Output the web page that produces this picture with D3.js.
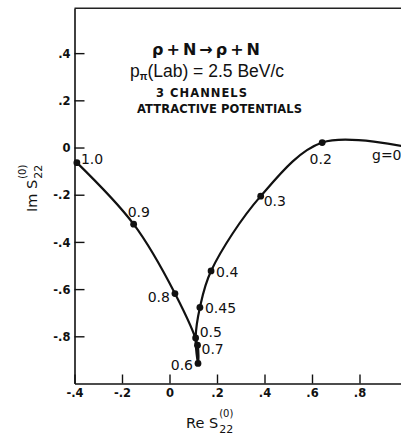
<!DOCTYPE html>
<html>
<head>
<meta charset="utf-8">
<script src="https://cdn.jsdelivr.net/npm/d3@7"></script>
<style>
  html, body { margin: 0; padding: 0; background: #fff; }
  svg { display: block; }
  .tick text { font-family: "DejaVu Sans", sans-serif; font-weight: bold; font-size: 11.5px; fill: #111; }
  .ptlabel { font-family: "DejaVu Sans", sans-serif; font-size: 14px; fill: #111; }
</style>
</head>
<body>
<script>
// Coupling-strength labels along the trajectory, in curve order
const gLabels = ["1.0", "0.9", "0.8", "0.7", "0.6", "0.5", "0.45", "0.4", "0.3", "0.2", "g=0"];
// Re S22(0) and Im S22(0) at each coupling strength
const reS = [-0.390, -0.151, 0.023, 0.118, 0.120, 0.110, 0.128, 0.175, 0.384, 0.643, 1.000];
const imS = [-0.064, -0.325, -0.619, -0.838, -0.915, -0.807, -0.678, -0.523, -0.206, 0.021, 0.002];

const xTickValues = [-0.4, -0.2, 0, 0.2, 0.4, 0.6, 0.8];
const xTickLabels = ["-.4", "-.2", "0", ".2", ".4", ".6", ".8"];
const yTickValues = [0.4, 0.2, 0, -0.2, -0.4, -0.6, -0.8];
const yTickLabels = [".4", ".2", "0", "-.2", "-.4", "-.6", "-.8"];

// label placement relative to each point: [dx, dy, anchor]
const labelPlace = [
  [4, 1, "start"], [-6, -7, "start"], [-5, 8, "end"], [4, 9, "start"],
  [-5, 7, "end"], [4, -1, "start"], [5, 5, "start"], [5, 6, "start"],
  [3, 10, "start"], [-1.5, 21, "middle"], [-35, 13, "start"]
];

const W = 401, H = 436;
const svg = d3.select("body").append("svg").attr("width", W).attr("height", H);

const x = d3.scaleLinear().domain([-0.4, 1.0]).range([74.5, 407]);
const y = d3.scaleLinear().domain([-1.0, 0.59]).range([383.5, 8.3]);

// axes with inward ticks
const xAxis = d3.axisBottom(x)
  .tickValues(xTickValues)
  .tickFormat((d, i) => xTickLabels[i])
  .tickSizeInner(-9).tickSizeOuter(0).tickPadding(5);
const yAxis = d3.axisLeft(y)
  .tickValues(yTickValues)
  .tickFormat((d, i) => yTickLabels[i])
  .tickSizeInner(-10).tickSizeOuter(0).tickPadding(4);

const gx = svg.append("g").attr("transform", `translate(0,${y(-1.0)})`).call(xAxis);
const gy = svg.append("g").attr("transform", `translate(${x(-0.4)},0)`).call(yAxis);
[gx, gy].forEach(g => {
  g.selectAll("path.domain").attr("stroke", "#111").attr("stroke-width", 1.6);
  g.selectAll(".tick line").attr("stroke", "#111").attr("stroke-width", 1.4);
});
gy.selectAll(".tick text").attr("dy", "0.36em");

// top frame line
svg.append("line")
  .attr("x1", x(-0.4)).attr("x2", W)
  .attr("y1", y(0.59)).attr("y2", y(0.59))
  .attr("stroke", "#222").attr("stroke-width", 1.4);

// trajectory
const pts = reS.map((r, i) => [r, imS[i]]);
const line = d3.line().x(d => x(d[0])).y(d => y(d[1])).curve(d3.curveCatmullRom.alpha(0.5));
svg.append("path")
  .attr("d", line(pts))
  .attr("fill", "none").attr("stroke", "#111").attr("stroke-width", 2.2);

svg.selectAll("circle.pt").data(pts.slice(0, pts.length - 1)).enter()
  .append("circle").attr("class", "pt")
  .attr("cx", d => x(d[0])).attr("cy", d => y(d[1])).attr("r", 3.4)
  .attr("fill", "#111");

svg.selectAll("text.ptlabel").data(pts).enter()
  .append("text").attr("class", "ptlabel")
  .attr("x", (d, i) => x(d[0]) + labelPlace[i][0])
  .attr("y", (d, i) => y(d[1]) + labelPlace[i][1])
  .attr("text-anchor", (d, i) => labelPlace[i][2])
  .attr("font-size", (d, i) => i === pts.length - 1 ? 13 : null)
  .text((d, i) => gLabels[i]);

// reaction description
const title = svg.append("g").attr("fill", "#111");
title.append("text").attr("x", 152).attr("y", 55)
  .attr("font-family", "DejaVu Sans, sans-serif").attr("font-weight", "bold").attr("font-size", 16)
  .attr("textLength", 108).attr("lengthAdjust", "spacing")
  .text("ρ + N → ρ + N");
const t2 = title.append("text").attr("x", 130).attr("y", 77)
  .attr("font-family", "Liberation Sans, sans-serif").attr("font-size", 17.5);
t2.append("tspan").text("p");
t2.append("tspan").attr("font-size", 10).attr("font-weight", "bold").attr("dy", 3).text("π");
t2.append("tspan").attr("dy", -3).text("(Lab) = 2.5 BeV/c");
title.append("text").attr("x", 156).attr("y", 97)
  .attr("font-family", "DejaVu Sans, sans-serif").attr("font-weight", "bold").attr("font-size", 11.5)
  .attr("textLength", 91).attr("lengthAdjust", "spacing")
  .text("3 CHANNELS");
title.append("text").attr("x", 137).attr("y", 113)
  .attr("font-family", "DejaVu Sans, sans-serif").attr("font-weight", "bold").attr("font-size", 11.5)
  .attr("textLength", 165).attr("lengthAdjust", "spacing")
  .text("ATTRACTIVE POTENTIALS");

// axis titles with stacked superscript (0) and subscript 22
function stackedLabel(g, main) {
  const t = g.append("text").attr("font-family", "DejaVu Sans, sans-serif").attr("font-size", 14.5)
    .attr("fill", "#111").text(main);
  const w = t.node().getComputedTextLength();
  g.append("text").attr("x", w + 1).attr("y", -11)
    .attr("font-family", "DejaVu Sans, sans-serif").attr("font-size", 10).attr("fill", "#111").text("(0)");
  g.append("text").attr("x", w + 1).attr("y", 5)
    .attr("font-family", "DejaVu Sans, sans-serif").attr("font-size", 11).attr("fill", "#111").text("22");
}
stackedLabel(svg.append("g").attr("transform", "translate(186,428)"), "Re S");
stackedLabel(svg.append("g").attr("transform", "translate(37,212) rotate(-90)"), "Im S");
</script>
</body>
</html>
